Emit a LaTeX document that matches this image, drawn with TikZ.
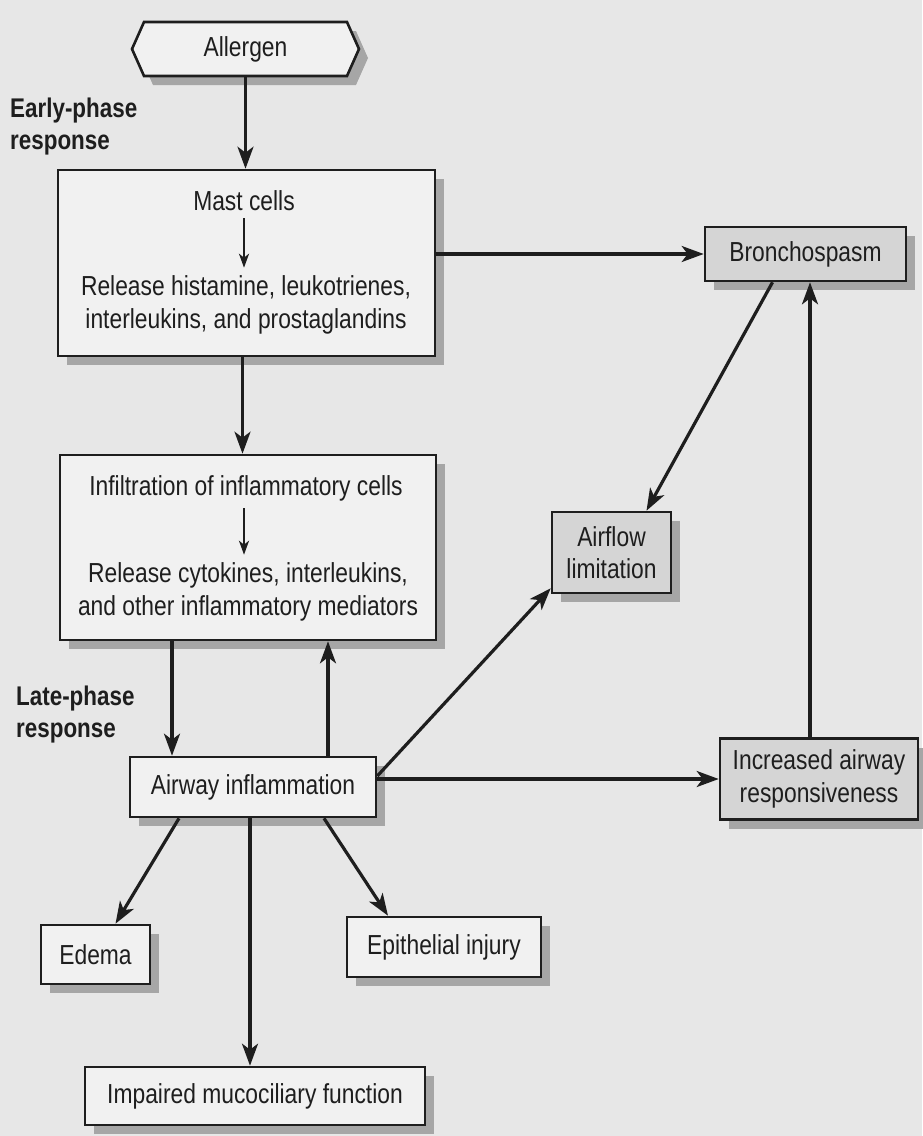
\documentclass[tikz,border=0pt]{standalone}
\usepackage{fontspec}
\setmainfont{Liberation Sans}[FakeStretch=0.83]
\usepackage{tikz}
\usetikzlibrary{arrows.meta,positioning,shapes.symbols,shadows}
\definecolor{paper}{HTML}{E7E7E7}
\definecolor{ink}{HTML}{1E1E1E}
\definecolor{boxpale}{HTML}{F1F1F1}
\definecolor{boxgray}{HTML}{D5D5D5}
\definecolor{shade}{HTML}{A6A6A6}
\tikzset{
  card/.style={draw=ink,line width=2.6pt,fill=boxpale,rectangle,inner sep=0pt,align=center,text=ink,
    font=\fontsize{27.5}{32.5}\selectfont,general shadow={fill=shade,shadow xshift=9pt,shadow yshift=-9pt}},
  graycard/.style={card,fill=boxgray},
  txt/.style={inner sep=0pt,align=center,text=ink,font=\fontsize{27.5}{32.5}\selectfont},
  phase/.style={inner sep=0pt,align=left,text=ink,font=\fontsize{27}{32}\selectfont\bfseries},
  arr/.style={-{Stealth[length=22pt,width=16pt,inset=6pt]},line width=3.2pt,color=ink},
  thinarr/.style={-{Stealth[length=14pt,width=10pt,inset=4pt]},line width=2.4pt,color=ink}
}
\begin{document}
\begin{tikzpicture}[x=1pt,y=-1pt]
  \fill[paper] (0,0) rectangle (922,1136);
  \useasboundingbox (0,0) rectangle (922,1136);
  \node[card,signal,signal to=west and east,signal pointer angle=132,minimum width=227pt,minimum height=54pt] (allergen) at (245.5,49) {Allergen};
  \node[phase,anchor=west] (early) at (10,127) {Early-phase\\response};
  \node[card,minimum width=377pt,minimum height=186pt] (mastbox) at (246.5,263) {};
  \node[txt] (mast) at (244,201) {Mast cells};
  \node[txt] (hist) at (246,305) {Release histamine, leukotrienes,\\interleukins, and prostaglandins};
  \node[graycard,minimum width=201pt,minimum height=54pt] (broncho) at (805.5,254) {Bronchospasm};
  \node[card,minimum width=376pt,minimum height=185pt] (infbox) at (248,547.5) {};
  \node[txt] (infil) at (246,488) {Infiltration of inflammatory cells};
  \node[txt] (cyto) at (248,592) {Release cytokines, interleukins,\\and other inflammatory mediators};
  \node[graycard,minimum width=119pt,minimum height=81pt] (airflow) at (611.5,552.5) {Airflow\\limitation};
  \node[phase,anchor=west] (late) at (16,715) {Late-phase\\response};
  \node[card,minimum width=246pt,minimum height=60pt] (airway) at (253,787) {Airway inflammation};
  \node[graycard,minimum width=198pt,minimum height=81pt] (incresp) at (819,779) {Increased airway\\responsiveness};
  \node[card,minimum width=109pt,minimum height=59pt] (edema) at (95.5,954.5) {Edema};
  \node[card,minimum width=194pt,minimum height=60pt] (epith) at (444,947) {Epithelial injury};
  \node[card,minimum width=340pt,minimum height=58pt] (impaired) at (255,1096) {Impaired mucociliary function};
  \draw[arr] (allergen.south) -- (allergen.south |- mastbox.north);
  \draw[thinarr,shorten <=7pt,shorten >=8pt] (mast.south) -- (mast.south |- hist.north);
  \draw[arr] (mastbox.east |- broncho.west) -- (broncho.west);
  \draw[arr] ([xshift=-4pt]mastbox.south) -- ([xshift=-4pt]mastbox.south |- infbox.north);
  \draw[thinarr,shorten <=7pt,shorten >=8pt] ([xshift=-2pt]infil.south) -- ([xshift=-2pt]infil.south |- cyto.north);
  \draw[arr] ([xshift=-33pt]broncho.south) -- ([xshift=35pt]airflow.north);
  \draw[arr] ([xshift=-76pt]infbox.south) -- ([xshift=-76pt]infbox.south |- airway.north);
  \draw[arr] ([xshift=75pt]airway.north) -- ([xshift=75pt]airway.north |- infbox.south);
  \draw[arr] ([yshift=11pt]airway.east) -- ([yshift=6pt]airflow.south west);
  \draw[arr] (airway.east |- incresp.west) -- (incresp.west);
  \draw[arr] ([xshift=-9pt]incresp.north) -- ([xshift=-9pt]incresp.north |- broncho.south);
  \draw[arr] ([xshift=-74pt]airway.south) -- ([xshift=20pt]edema.north);
  \draw[arr] ([xshift=-3pt]airway.south) -- ([xshift=-3pt]airway.south |- impaired.north);
  \draw[arr] ([xshift=71pt]airway.south) -- ([xshift=-56pt]epith.north);
\end{tikzpicture}
\end{document}
